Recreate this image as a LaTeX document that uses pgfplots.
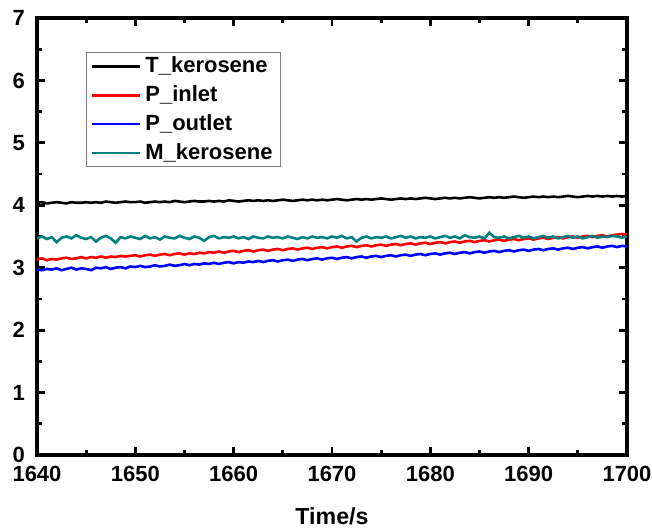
\documentclass[border=0pt]{standalone}
\usepackage{fontspec}
\setmainfont{Liberation Sans}
\usepackage{pgfplots}
\usepackage{pgfplotstable}
\pgfplotsset{compat=1.18}
\definecolor{mteal}{RGB}{0,128,128}

% columns: time, T_kerosene, P_inlet, P_outlet, M_kerosene
\pgfplotstableread{
t      T     Pin   Pout  M
1640.0 4.04 3.13 2.97 3.47
1640.5 4.05 3.15 2.96 3.50
1641.0 4.03 3.12 2.98 3.46
1641.5 4.04 3.14 2.97 3.49
1642.0 4.05 3.13 2.99 3.41
1642.5 4.04 3.15 2.96 3.48
1643.0 4.03 3.16 2.98 3.50
1643.5 4.05 3.14 3.00 3.47
1644.0 4.04 3.15 2.97 3.52
1644.5 4.04 3.17 2.99 3.48
1645.0 4.05 3.15 2.98 3.46
1645.5 4.04 3.17 2.96 3.49
1646.0 4.05 3.16 3.00 3.42
1646.5 4.04 3.18 2.99 3.48
1647.0 4.06 3.16 3.01 3.51
1647.5 4.05 3.18 2.98 3.47
1648.0 4.04 3.17 3.00 3.40
1648.5 4.05 3.19 3.01 3.49
1649.0 4.06 3.18 2.99 3.47
1649.5 4.05 3.19 3.02 3.50
1650.0 4.05 3.20 3.01 3.48
1650.5 4.06 3.18 3.03 3.46
1651.0 4.04 3.20 3.01 3.51
1651.5 4.05 3.21 3.02 3.47
1652.0 4.06 3.19 3.04 3.49
1652.5 4.05 3.21 3.02 3.45
1653.0 4.06 3.22 3.03 3.50
1653.5 4.05 3.20 3.05 3.48
1654.0 4.07 3.22 3.03 3.47
1654.5 4.06 3.23 3.04 3.51
1655.0 4.05 3.21 3.06 3.48
1655.5 4.06 3.23 3.04 3.46
1656.0 4.07 3.22 3.06 3.50
1656.5 4.06 3.24 3.05 3.48
1657.0 4.06 3.23 3.07 3.43
1657.5 4.07 3.25 3.06 3.49
1658.0 4.06 3.24 3.08 3.51
1658.5 4.07 3.26 3.06 3.47
1659.0 4.06 3.24 3.08 3.49
1659.5 4.08 3.26 3.09 3.48
1660.0 4.07 3.27 3.07 3.50
1660.5 4.06 3.25 3.09 3.47
1661.0 4.07 3.27 3.08 3.49
1661.5 4.08 3.28 3.10 3.46
1662.0 4.07 3.26 3.09 3.50
1662.5 4.08 3.28 3.11 3.48
1663.0 4.07 3.29 3.09 3.47
1663.5 4.08 3.27 3.11 3.50
1664.0 4.07 3.29 3.12 3.48
1664.5 4.08 3.30 3.10 3.49
1665.0 4.09 3.28 3.12 3.47
1665.5 4.08 3.30 3.13 3.50
1666.0 4.07 3.31 3.11 3.48
1666.5 4.08 3.29 3.13 3.46
1667.0 4.09 3.31 3.14 3.49
1667.5 4.08 3.32 3.12 3.47
1668.0 4.09 3.30 3.14 3.50
1668.5 4.08 3.32 3.15 3.48
1669.0 4.09 3.33 3.13 3.49
1669.5 4.08 3.31 3.15 3.47
1670.0 4.09 3.33 3.16 3.50
1670.5 4.10 3.34 3.14 3.48
1671.0 4.09 3.32 3.16 3.51
1671.5 4.08 3.34 3.17 3.47
1672.0 4.09 3.35 3.15 3.49
1672.5 4.10 3.33 3.17 3.42
1673.0 4.09 3.35 3.18 3.48
1673.5 4.10 3.36 3.16 3.50
1674.0 4.09 3.34 3.18 3.47
1674.5 4.10 3.36 3.19 3.49
1675.0 4.11 3.37 3.17 3.48
1675.5 4.10 3.35 3.19 3.50
1676.0 4.09 3.37 3.20 3.47
1676.5 4.10 3.38 3.18 3.49
1677.0 4.11 3.36 3.20 3.51
1677.5 4.10 3.38 3.21 3.48
1678.0 4.11 3.39 3.19 3.50
1678.5 4.10 3.37 3.21 3.47
1679.0 4.11 3.39 3.22 3.49
1679.5 4.12 3.40 3.20 3.48
1680.0 4.11 3.38 3.22 3.50
1680.5 4.10 3.40 3.23 3.47
1681.0 4.11 3.41 3.21 3.49
1681.5 4.12 3.39 3.23 3.51
1682.0 4.11 3.41 3.24 3.48
1682.5 4.12 3.42 3.22 3.50
1683.0 4.11 3.40 3.24 3.47
1683.5 4.12 3.42 3.25 3.52
1684.0 4.13 3.43 3.23 3.49
1684.5 4.12 3.41 3.25 3.48
1685.0 4.11 3.43 3.26 3.50
1685.5 4.12 3.44 3.24 3.47
1686.0 4.13 3.42 3.26 3.56
1686.5 4.12 3.44 3.27 3.49
1687.0 4.13 3.45 3.25 3.48
1687.5 4.12 3.43 3.27 3.50
1688.0 4.13 3.45 3.28 3.47
1688.5 4.14 3.46 3.26 3.49
1689.0 4.13 3.44 3.28 3.51
1689.5 4.12 3.46 3.29 3.48
1690.0 4.13 3.47 3.27 3.50
1690.5 4.14 3.45 3.29 3.47
1691.0 4.13 3.47 3.30 3.49
1691.5 4.14 3.48 3.28 3.51
1692.0 4.13 3.46 3.30 3.48
1692.5 4.14 3.48 3.31 3.50
1693.0 4.13 3.49 3.29 3.47
1693.5 4.14 3.47 3.31 3.49
1694.0 4.15 3.49 3.32 3.51
1694.5 4.14 3.50 3.30 3.48
1695.0 4.13 3.48 3.32 3.50
1695.5 4.14 3.50 3.33 3.47
1696.0 4.15 3.51 3.31 3.49
1696.5 4.14 3.49 3.33 3.51
1697.0 4.15 3.51 3.34 3.48
1697.5 4.14 3.52 3.32 3.50
1698.0 4.15 3.50 3.34 3.49
1698.5 4.14 3.52 3.35 3.51
1699.0 4.15 3.53 3.33 3.50
1699.5 4.14 3.54 3.35 3.48
1700.0 4.15 3.53 3.34 3.50
}\datatable

\begin{document}
\begin{tikzpicture}
\useasboundingbox (-18.5pt,-37pt) rectangle (307.5pt,227.5pt);
\begin{axis}[
  scale only axis,
  width=295pt, height=218.5pt,
  xmin=1640, xmax=1700, ymin=0, ymax=7,
  xtick={1640,1650,...,1700},
  ytick={0,1,...,7},
  minor x tick num=1,
  minor y tick num=1,
  tick align=inside,
  major tick length=4pt,
  minor tick length=2.5pt,
  every tick/.style={black, line width=1.4pt},
  axis line style={line width=1.7pt},
  /pgf/number format/assume math mode=true,
  /pgf/number format/set thousands separator={},
  ticklabel style={font=\bfseries\fontsize{11}{12}\selectfont},
  yticklabel style={xshift=-2.5pt},
  xticklabel style={yshift=-2pt},
  xlabel={Time/s},
  xlabel style={font=\bfseries\fontsize{11.6}{13}\selectfont,
    at={(axis description cs:0.5,0)}, anchor=base, yshift=-34.5pt},
  legend style={at={(rel axis cs:0.083,0.922)}, anchor=north west,
    draw=gray, line width=0.6pt,
    font=\bfseries\fontsize{11}{12}\selectfont,
    inner xsep=2pt, inner ysep=0pt, row sep=1pt},
  legend cell align=left,
  legend image code/.code={\draw[#1, line width=1.4pt] (0pt,0pt) -- (24pt,0pt);},
  every axis plot/.append style={line width=1.3pt},
]
\addplot[black] table[x=t, y=T] {\datatable};
\addplot[red] table[x=t, y=Pin] {\datatable};
\addplot[blue] table[x=t, y=Pout] {\datatable};
\addplot[mteal] table[x=t, y=M] {\datatable};
\legend{T\_kerosene, P\_inlet, P\_outlet, M\_kerosene}
\end{axis}
\end{tikzpicture}
\end{document}
